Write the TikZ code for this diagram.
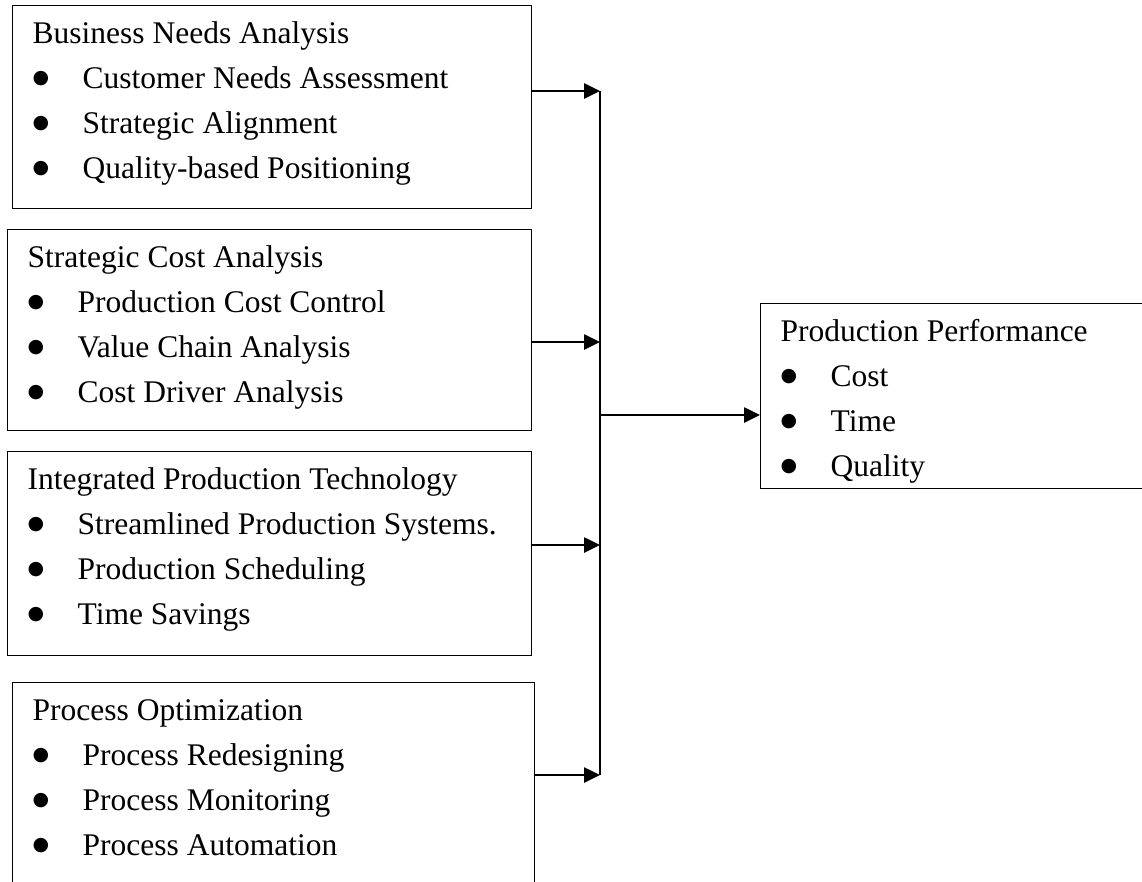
\documentclass[tikz,border=0pt]{standalone}
\usepackage{fontspec}
\setmainfont{Liberation Serif}
\newfontfamily\dotfont{DejaVu Sans}
\usetikzlibrary{arrows.meta}

% text block of one box: height, width, title and items
\newcommand{\blk}[3]{\parbox[c][#1][t]{#2}{\rule{0pt}{38pt}\hspace*{20pt}#3}}
\newcommand{\itm}[1]{\\\hspace*{20pt}\makebox[50pt][l]{\raisebox{5pt}{\dotfont\fontsize{19}{19}\selectfont ●}}#1}

\tikzset{
	blockbox/.style={draw, line width=1.3pt, inner sep=0pt, anchor=north west,
		font=\fontsize{31.5}{45}\selectfont},
	feed/.style={line width=2.6pt, -{Triangle[length=16pt, width=15pt]}},
	bus/.style={line width=1.5pt}
}

\begin{document}
\begin{tikzpicture}[x=1pt, y=-1pt]
		\useasboundingbox (0,0) rectangle (1142,881);
		%
		%Business Needs Analysis
		\node[blockbox] (needs) at (12,5) {\blk{203pt}{519pt}{Business Needs Analysis
			\itm{Customer Needs Assessment}
			\itm{Strategic Alignment}
			\itm{Quality-based Positioning}}};
		%
		%Strategic Cost Analysis
		\node[blockbox] (cost) at (7,229) {\blk{201pt}{524pt}{Strategic Cost Analysis
			\itm{Production Cost Control}
			\itm{Value Chain Analysis}
			\itm{Cost Driver Analysis}}};
		%
		%Integrated Production Technology
		\node[blockbox] (tech) at (7,451) {\blk{204pt}{524pt}{Integrated Production Technology
			\itm{Streamlined Production Systems.}
			\itm{Production Scheduling}
			\itm{Time Savings}}};
		%
		%Process Optimization
		\node[blockbox] (proc) at (12,682) {\blk{215pt}{522pt}{Process Optimization
			\itm{Process Redesigning}
			\itm{Process Monitoring}
			\itm{Process Automation}}};
		%
		%Production Performance
		\node[blockbox] (perf) at (760,303) {\blk{185pt}{400pt}{Production Performance
			\itm{Cost}
			\itm{Time}
			\itm{Quality}}};
		%
		%Sammelleitung
		\coordinate (j1) at (600,91);
		\coordinate (j2) at (600,342);
		\coordinate (j3) at (600,545);
		\coordinate (j4) at (600,775);
		\coordinate (jout) at (600,415);
		\draw[bus] (j1) -- (j4);
		%
		%Pfeile zur Sammelleitung
		\draw[feed] (needs.east |- j1) -- (j1);
		\draw[feed] (cost.east |- j2) -- (j2);
		\draw[feed] (tech.east |- j3) -- (j3);
		\draw[feed] (proc.east |- j4) -- (j4);
		%
		%Pfeil Production Performance
		\draw[feed] (jout) -- (perf.west |- jout);
	\end{tikzpicture}
\end{document}
